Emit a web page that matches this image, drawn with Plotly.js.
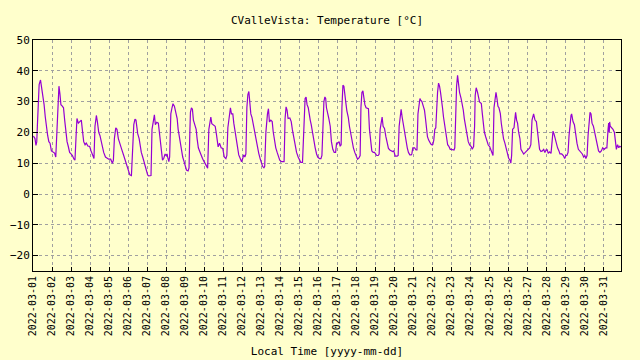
<!DOCTYPE html>
<html>
<head>
<meta charset="utf-8">
<script src="https://cdn.plot.ly/plotly-3.0.1.min.js"></script>
<style>html,body{margin:0;padding:0;background:#ffffcc;}#chart{width:640px;height:360px;}</style>
</head>
<body>
<div id="chart"></div>
<script>
// Readings per day: "HH:MM value" pairs (2022-03-DD)
const dayReadings = [
  /*01*/ "00:30 18.8|02:30 18.0|03:45 15.8|04:45 17|05:30 22|06:30 32|07:45 35.5|09:30 37|11:00 34.5|12:30 33|14:00 29|15:30 25|17:00 21|18:30 19|20:00 17|21:30 16.5|23:15 14",
  /*02*/ "01:15 13.5|03:15 13.3|04:45 12|06:00 20|07:30 32|08:45 35|10:00 32.5|11:15 29|13:00 28.5|14:30 28|16:00 24|17:15 20|19:00 17|20:30 15.5|22:15 13.5",
  /*03*/ "00:00 13|01:45 12.5|03:45 11.3|05:00 11|06:15 18|07:30 24.5|09:15 23|11:00 23.5|13:00 24|14:15 21|16:00 17|17:45 16|19:15 16.5|21:30 15.5|23:30 15.5",
  /*04*/ "01:15 14|03:45 12.5|05:00 11.5|06:15 22|08:00 25.5|09:15 23.5|11:00 20|12:30 19|14:00 17|15:30 15|17:15 13.5|19:30 12|21:30 11.5|23:30 11.3",
  /*05*/ "02:00 11.3|04:15 10|05:30 11|06:45 18|08:30 21.5|10:00 21|11:45 18|14:00 16.5|16:00 14.5|18:30 12.5|20:30 11|22:45 9",
  /*06*/ "00:45 7.5|02:15 6.2|04:15 6|05:15 10|06:15 17|07:15 22.5|08:45 24.3|10:00 24|11:00 21|12:15 19.5|14:00 18|15:15 15.5|16:45 13.5|18:30 12|20:30 10|22:45 7.5",
  /*07*/ "00:45 6.2|02:00 5.9|04:15 5.8|05:00 6|06:15 21|08:00 23.5|09:15 25.7|10:30 22.5|12:15 23.3|14:15 23|15:30 20|16:45 16.3|18:00 14|19:30 11|21:00 11.5|22:45 13|23:59 12.5",
  /*08*/ "01:15 13|02:00 12|03:30 10.5|04:30 12|06:00 26|07:30 28|08:45 29.3|10:30 28.5|12:15 26|14:00 24.5|15:15 21|16:45 18.3|18:00 16|19:30 14|21:00 12|22:45 10.5",
  /*09*/ "00:15 9.2|01:45 7.8|03:45 7.5|05:00 8.5|06:00 20|06:45 26.5|08:00 28|09:15 27.5|10:30 24|12:15 22|14:00 21|15:15 17.8|16:45 15|18:30 13.8|20:15 12.3|22:00 11.5",
  /*10*/ "00:00 10.5|01:15 10|03:30 9.2|04:30 8.4|06:00 21|07:15 24|08:30 25|09:45 22.8|11:30 22.5|14:00 22|15:15 20|16:30 17.5|17:45 15.3|19:30 16.5|21:30 15|23:30 14.8",
  /*11*/ "01:30 12|03:30 11.5|04:45 12.5|06:00 21.5|07:15 25|08:00 27|09:15 28|10:30 26|12:15 26|13:30 23|15:15 20.2|16:30 17|18:00 14.8|19:45 12.7|21:30 11.6|23:15 10.5",
  /*12*/ "00:45 11.5|02:00 12.7|03:30 12|04:45 13|06:00 28|07:15 32.3|08:30 33.3|09:45 30.5|11:00 26|12:30 24.8|14:15 22.4|16:00 20|17:45 17|19:30 14.8|21:00 13.2|22:45 11.5",
  /*13*/ "00:15 10.3|01:45 9|03:30 8.5|04:30 9|06:00 20|07:15 25|08:00 26|09:15 27.7|10:30 23.4|12:15 24|14:00 23.5|15:15 20.2|16:45 17|18:30 15|20:15 13.5|22:00 12|23:30 11",
  /*14*/ "01:45 10.5|03:45 10.5|05:00 10.5|06:15 24.5|07:30 28.3|08:45 27.2|10:00 24.5|12:15 24.7|14:00 23.5|15:30 20.8|17:15 18|19:00 15.5|20:45 13.5|22:45 12",
  /*15*/ "00:45 10.5|02:00 10.3|04:15 10.3|05:30 20|06:15 27|07:30 31|08:45 31.5|10:00 29|11:30 28|12:30 26|14:00 24|15:15 22.5|16:45 20|18:30 17|20:15 15|22:00 13|23:30 12",
  /*16*/ "01:45 11.5|03:30 11.5|04:45 12.5|06:00 25|07:15 30|08:30 31.5|09:30 31|10:30 28|11:45 26|13:30 24.5|15:15 22|16:45 17|18:30 14.5|20:15 13.5|22:00 13.5|23:15 16.5",
  /*17*/ "00:45 16.5|02:30 17|03:45 15.5|05:00 16|06:00 28|07:15 35.3|08:30 35|09:45 31|11:00 29.5|12:15 27|14:00 25|15:30 22|17:15 19|19:00 16|20:30 15|22:15 13.5|23:59 12",
  /*18*/ "01:45 11.3|03:30 11.7|05:00 12.5|06:00 28|07:15 33|08:30 33.5|09:45 31|11:00 29|12:30 28|15:30 27.7|16:45 21|18:00 17.5|19:45 14|21:30 13.5|23:15 13.5",
  /*19*/ "00:30 13|02:00 12.5|03:45 12.5|05:00 13|06:15 21|07:30 24|08:45 25|10:00 22|11:45 21.3|13:30 18.6|15:15 15.9|16:45 14.8|18:30 14.3|20:15 14|22:00 13.8|23:30 14",
  /*20*/ "01:15 12.3|03:45 12.3|05:00 12.5|06:15 22|07:30 26|08:45 27.5|10:00 25|11:30 22.5|12:30 21.5|14:00 19|15:15 17|16:30 15|18:00 13.5|19:45 12.7|21:30 12.7|22:15 13|23:30 15",
  /*21*/ "01:45 15|03:30 14.3|04:45 14.3|06:00 26|07:15 30|08:30 31|09:30 30.5|11:00 30|13:00 28.3|14:15 27.2|15:30 24.5|16:45 20.8|18:00 18.6|19:30 17.5|20:30 17|22:15 16.2",
  /*22*/ "00:00 15.9|00:45 16|02:00 17.5|03:15 21|04:30 21.5|05:30 28|06:45 33|08:00 36|09:15 35|10:30 33|11:45 31|13:00 28|14:15 25|15:30 23|16:45 20|18:00 17.5|19:30 16|21:00 15.5|22:45 14.5",
  /*23*/ "00:15 14.5|01:45 14.5|03:30 14.3|04:30 15|05:30 28|06:45 35|08:00 38.5|09:15 36|10:30 33|12:30 31|14:00 29.4|15:15 27.2|16:30 24.5|18:00 21.8|19:45 19.1|21:30 17|23:15 15.9",
  /*24*/ "01:15 15.4|02:30 14.5|04:15 15.4|05:30 22|06:15 32|07:30 34.5|09:15 33|11:45 29.9|14:00 29.4|15:15 26.1|16:30 22.9|17:45 20.2|19:30 18.6|21:00 17.5|22:45 15.9",
  /*25*/ "00:30 15.4|02:00 14.3|03:30 12.7|04:45 12.5|06:00 28|07:15 32|08:30 33|09:45 31|11:00 28.5|12:15 28|14:00 26.1|15:15 22.9|16:30 20.2|18:00 18|19:45 16.5|21:30 14.8|22:45 13.2",
  /*26*/ "00:30 11.6|02:00 11.1|03:15 10|04:15 12.5|05:30 21|07:15 21.5|08:30 24.5|09:15 26.5|10:30 24|11:45 23|13:00 20.2|14:45 18|16:00 14.5|17:45 13.5|19:30 13|21:30 13.5|23:30 14",
  /*27*/ "01:15 14.5|03:00 15|04:30 16|06:00 24|08:00 26|09:45 24|11:30 23.5|13:00 20|14:15 16.5|15:30 14.5|17:15 13.8|19:00 14|20:45 14.5|22:15 13.5|23:45 14.3",
  /*28*/ "01:15 14.3|02:30 13.2|04:15 13.7|06:00 13.2|07:15 16|08:30 20.4|09:45 19.5|11:00 18|12:30 17|14:15 15|16:00 14|17:15 13|19:30 13|21:30 12.5|23:15 11.5",
  /*29*/ "00:45 12.5|02:00 12.5|03:30 13.5|04:45 19|06:00 24|07:15 25.5|08:00 26|09:45 23.5|11:30 22.5|13:00 19|14:45 16.5|16:30 14.5|18:00 14|19:45 13.5|21:30 13|23:15 12",
  /*30*/ "00:45 12.5|02:00 11.5|03:30 12.5|04:45 19|06:00 25|07:15 26.5|08:30 26|09:45 23|11:30 22|13:00 20|14:45 17.5|16:30 15|18:00 14|19:45 13.5|21:30 14|23:15 15",
  /*31*/ "00:30 14.5|01:15 14.5|03:00 15|04:30 15|06:00 21|06:45 23|07:30 20|08:00 23.4|08:45 22|10:30 21.5|12:15 21|14:00 20|15:00 17.5|16:30 14.5|18:00 16|19:30 15|20:45 15.5|22:15 15.3"
];

const yTickValues = [-20, -10, 0, 10, 20, 30, 40, 50];
const chartTitle = "CValleVista: Temperature [°C]";
const xTitle = "Local Time [yyyy-mm-dd]";

const times = [];
const temps = [];
dayReadings.forEach((row, i) => {
  const dd = String(i + 1).padStart(2, "0");
  row.split("|").forEach(p => {
    const [hm, v] = p.split(" ");
    times.push("2022-03-" + dd + " " + hm);
    temps.push(parseFloat(v));
  });
});

const font = "DejaVu Sans Mono, monospace";
const gridColor = "#a0a0a0";

Plotly.newPlot("chart", [{
  x: times, y: temps, type: "scatter", mode: "lines",
  line: {color: "#9400d3", width: 1.2}, hoverinfo: "skip"
}], {
  width: 640, height: 360,
  paper_bgcolor: "#ffffcc", plot_bgcolor: "#ffffcc",
  margin: {l: 33, r: 19, t: 40, b: 89},
  showlegend: false,
  title: {text: chartTitle, font: {family: font, size: 11, color: "#000"},
          x: 0.5, xref: "paper", y: 1 - 20/360, yref: "container", yanchor: "middle"},
  xaxis: {
    type: "date", range: ["2022-03-01 00:00", "2022-03-31 22:20"],
    tick0: "2022-03-01", dtick: 86400000, tickformat: "%Y-%m-%d", tickangle: -90,
    tickfont: {family: font, size: 10, color: "#000"},
    showgrid: true, gridcolor: gridColor, griddash: "3px,3px", gridwidth: 1,
    ticks: "inside", ticklen: 4, tickcolor: "#000",
    showline: true, linecolor: "#000", linewidth: 1, mirror: true,
    zeroline: false,
    title: {text: xTitle, font: {family: font, size: 11, color: "#000"}, standoff: 12}
  },
  yaxis: {
    range: [-25, 50], tickvals: yTickValues,
    tickfont: {family: font, size: 11, color: "#000"},
    showgrid: true, gridcolor: gridColor, griddash: "3px,3px", gridwidth: 1,
    ticks: "inside", ticklen: 5, tickcolor: "#000",
    showline: true, linecolor: "#000", linewidth: 1, mirror: "ticks",
    zeroline: false
  }
}, {staticPlot: true});
</script>
</body>
</html>
